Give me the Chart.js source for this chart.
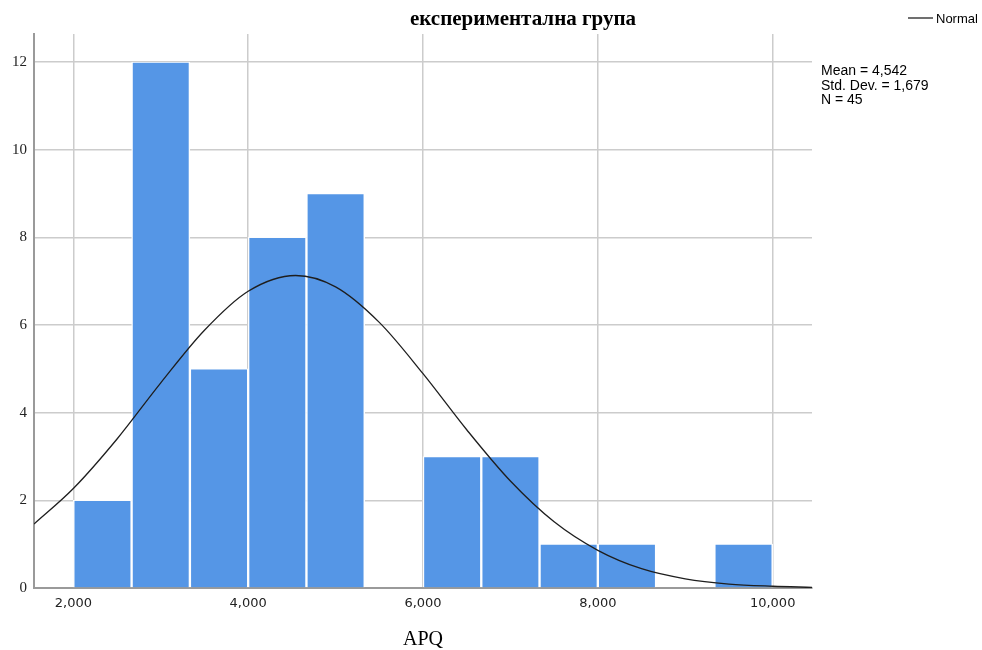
<!DOCTYPE html>
<html>
<head>
<meta charset="utf-8">
<script src="https://cdn.jsdelivr.net/npm/chart.js@4.4.0/dist/chart.umd.min.js"></script>
<style>
  html, body { margin: 0; padding: 0; background: #fff; }
  #wrap { width: 982px; height: 650px; position: relative; }
</style>
</head>
<body>
<div id="wrap"><canvas id="histChart" width="982" height="650"></canvas></div>
<script>
// histogram bins (centres of 666.67-wide bins) and their counts
const binCenters = [2333.3, 3000, 3666.7, 4333.3, 5000, 5666.7, 6333.3, 7000, 7666.7, 8333.3, 9000, 9666.7];
const binCounts = [2, 12, 5, 8, 9, 0, 3, 3, 1, 1, 0, 1];

// normal curve
const curveX = [1550, 2000, 2500, 3000, 3500, 4000, 4542, 5000, 5500, 6000, 6500, 7000, 7500, 8000, 8500, 9000, 9500, 10000, 10450];
const curveY = [1.46, 2.27, 3.40, 4.68, 5.88, 6.77, 7.13, 6.87, 6.06, 4.89, 3.61, 2.44, 1.51, 0.86, 0.44, 0.21, 0.09, 0.04, 0.015];

const xTicks = [2000, 4000, 6000, 8000, 10000];
const yTicks = [0, 2, 4, 6, 8, 10, 12];

const titleText = 'експериментална група';
const xTitle = 'APQ';
const statsLines = ['Mean = 4,542', 'Std. Dev. = 1,679', 'N = 45'];
const legendLabel = 'Normal';

const extraText = {
  id: 'extraText',
  afterDraw(chart) {
    const ctx = chart.ctx;
    const area = chart.chartArea;
    ctx.save();
    ctx.fillStyle = '#000';
    ctx.textBaseline = 'alphabetic';

    ctx.font = 'bold 21px "Liberation Serif"';
    ctx.textAlign = 'center';
    ctx.fillText(titleText, 523, 25);

    ctx.font = '20px "Liberation Serif"';
    ctx.fillText(xTitle, (area.left + area.right) / 2, 645);

    ctx.textAlign = 'left';
    ctx.font = '14px "Liberation Sans"';
    statsLines.forEach((s, i) => ctx.fillText(s, 821, 75 + i * 14.5));

    // legend
    ctx.strokeStyle = '#222';
    ctx.lineWidth = 1.3;
    ctx.beginPath();
    ctx.moveTo(908, 18);
    ctx.lineTo(933, 18);
    ctx.stroke();
    ctx.font = '13px "Liberation Sans"';
    ctx.fillText(legendLabel, 936, 23);
    ctx.restore();
  }
};

const ctx = document.getElementById('histChart').getContext('2d');
new Chart(ctx, {
  type: 'bar',
  data: {
    datasets: [
      {
        type: 'line',
        label: 'Normal',
        data: curveX.map((x, i) => ({ x: x, y: curveY[i] })),
        borderColor: '#1e1e1e',
        borderWidth: 1.3,
        pointRadius: 0,
        cubicInterpolationMode: 'monotone',
        fill: false,
        order: 0
      },
      {
        label: 'Frequency',
        data: binCenters.map((x, i) => ({ x: x, y: binCounts[i] })),
        backgroundColor: '#5596e6',
        borderColor: 'rgba(255,255,255,0.95)',
        borderWidth: { left: 1.5, right: 1.5, top: 1, bottom: 0 },
        borderSkipped: false,
        barPercentage: 1,
        categoryPercentage: 1,
        order: 1
      }
    ]
  },
  options: {
    responsive: false,
    animation: false,
    layout: { padding: { left: 0, top: 34, right: 170, bottom: 0 } },
    plugins: {
      legend: { display: false },
      title: { display: false },
      tooltip: { enabled: false }
    },
    scales: {
      x: {
        type: 'linear',
        min: 1550,
        max: 10450,
        offset: false,
        afterBuildTicks: (scale) => { scale.ticks = xTicks.map(v => ({ value: v })); },
        afterFit: (scale) => { scale.height = 62; },
        grid: { color: '#cccccc', lineWidth: 1.5, drawTicks: false, offset: false },
        border: { color: '#9a9a9a', width: 2 },
        ticks: {
          padding: 8,
          color: '#222',
          font: { family: 'DejaVu Sans', size: 13 },
          callback: (v) => v.toLocaleString('en-US'),
          maxRotation: 0
        }
      },
      y: {
        min: 0,
        max: 12.64,
        afterBuildTicks: (scale) => { scale.ticks = yTicks.map(v => ({ value: v })); },
        afterFit: (scale) => { scale.width = 34; },
        grid: { color: '#cccccc', lineWidth: 1.5, drawTicks: false },
        border: { color: '#9a9a9a', width: 2 },
        ticks: {
          padding: 7,
          color: '#222',
          font: { family: 'Liberation Serif', size: 15 }
        }
      }
    }
  },
  plugins: [extraText]
});
</script>
</body>
</html>
